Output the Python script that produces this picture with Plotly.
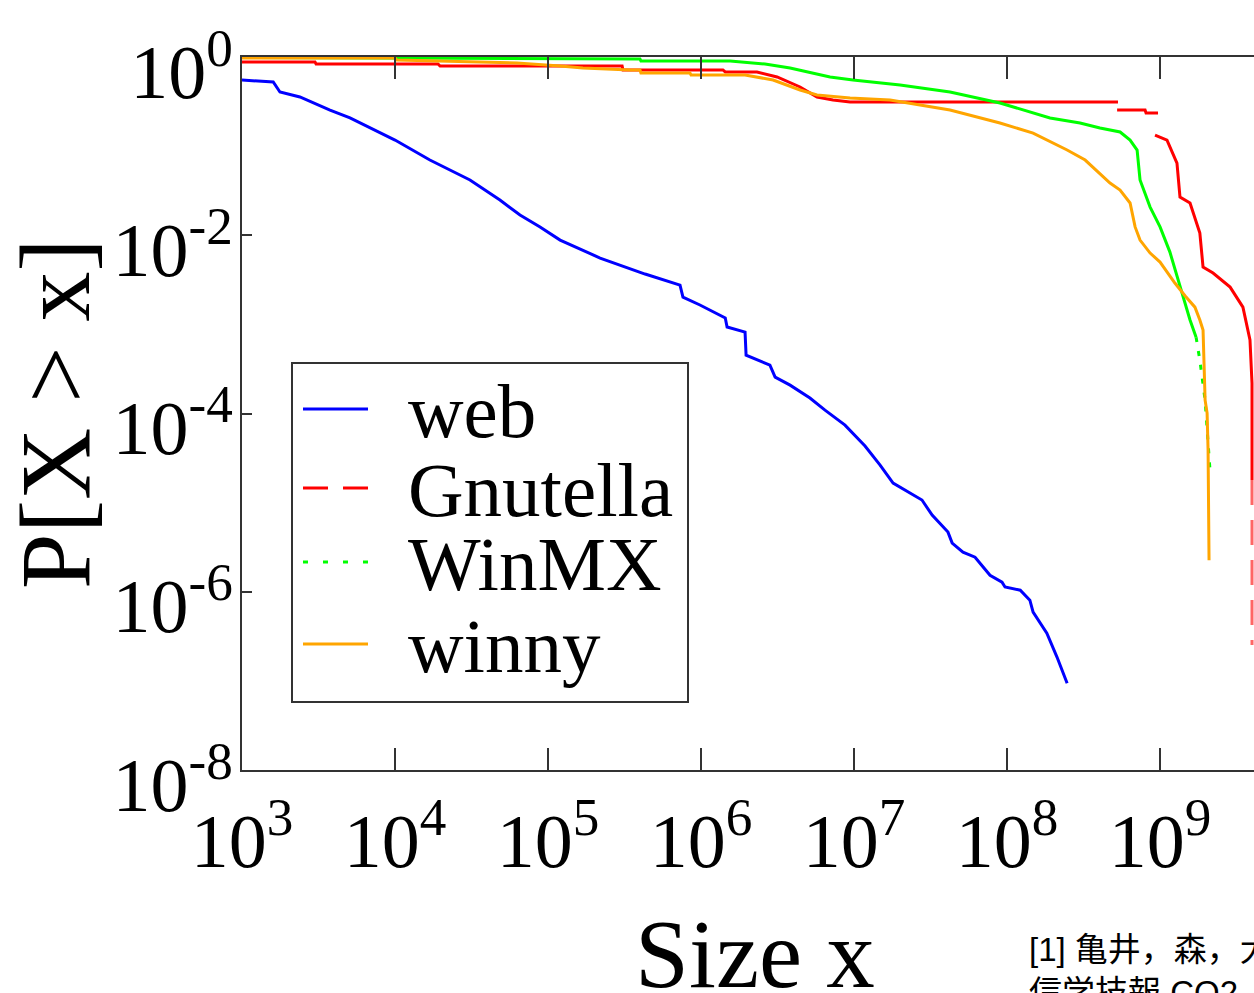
import plotly.graph_objects as go

# ---------------- data ----------------
web_size = [1.00e3, 1.60e3, 1.77e3, 2.39e3, 3.76e3, 5.08e3, 1.00e4, 1.69e4, 3.09e4, 4.85e4,
            6.56e4, 8.87e4, 1.20e5, 2.19e5, 4.31e5, 7.29e5, 7.62e5, 9.84e5, 1.44e6, 1.48e6,
            1.94e6, 1.97e6, 2.82e6, 3.05e6, 3.82e6, 5.15e6, 6.46e6, 8.73e6, 1.18e7, 1.48e7,
            1.80e7, 2.25e7, 2.78e7, 3.24e7, 4.11e7, 4.38e7, 5.15e7, 6.18e7, 7.74e7, 9.27e7,
            9.70e7, 1.22e8, 1.41e8, 1.48e8, 1.82e8, 2.12e8, 2.47e8]
web_p = [0.552, 0.524, 0.405, 0.356, 0.254, 0.207, 0.117, 0.0698, 0.0417, 0.0248,
         0.0169, 0.0124, 8.83e-3, 5.55e-3, 3.67e-3, 2.76e-3, 2.02e-3, 1.65e-3, 1.18e-3, 9.33e-4,
         8.20e-4, 4.52e-4, 3.49e-4, 2.56e-4, 2.08e-4, 1.49e-4, 1.09e-4, 7.41e-5, 4.31e-5, 2.64e-5,
         1.66e-5, 1.31e-5, 1.07e-5, 7.24e-6, 4.67e-6, 3.51e-6, 2.78e-6, 2.44e-6, 1.53e-6, 1.28e-6,
         1.13e-6, 1.04e-6, 8.05e-7, 5.90e-7, 3.43e-7, 1.85e-7, 9.42e-8]

gnutella_size = [1.00e3, 3.00e3, 3.05e3, 1.91e4, 1.97e4, 3.05e5, 3.09e5, 1.39e6, 1.44e6, 2.32e6,
                 3.14e6, 4.44e6, 5.73e6, 7.29e6, 9.42e6, 5.31e8, None, 5.24e8, 7.98e8, 8.10e8,
                 9.70e8, None, 9.27e8, 1.11e9, 1.29e9, 1.35e9, 1.57e9, 1.82e9, 1.91e9, 2.22e9,
                 2.87e9, 3.48e9, 3.87e9, 3.99e9, 3.99e9, 3.99e9]
gnutella_p = [0.879, 0.879, 0.834, 0.834, 0.792, 0.792, 0.715, 0.715, 0.679, 0.679,
              0.597, 0.461, 0.356, 0.329, 0.313, 0.313, None, 0.254, 0.254, 0.235,
              0.235, None, 0.133, 0.117, 0.0646, 0.0268, 0.0230, 0.0106, 4.40e-3, 3.77e-3,
              2.62e-3, 1.56e-3, 6.67e-4, 2.19e-4, 1.79e-5, 2.52e-7]

winmx_size = [1.00e3, 3.99e5, 4.05e5, 1.55e6, 2.62e6, 3.82e6, 6.97e6, 9.84e6, 2.00e7, 4.24e7,
              8.99e7, 1.91e8, 3.00e8, 4.05e8, 5.48e8, 6.37e8, 7.08e8, 7.40e8, 8.61e8, 1.00e9,
              1.16e9, 1.35e9, 1.57e9, 1.72e9, 1.82e9, 1.97e9, 2.06e9, 2.12e9]
winmx_p = [0.987, 0.950, 0.902, 0.902, 0.835, 0.753, 0.596, 0.552, 0.485, 0.405,
           0.305, 0.207, 0.182, 0.160, 0.144, 0.117, 0.0904, 0.0417, 0.0207, 0.0124,
           6.47e-3, 2.62e-3, 1.12e-3, 7.19e-4, 3.97e-4, 1.41e-4, 5.02e-5, 2.32e-5]

winny_size = [1.00e3, 1.00e4, 1.03e4, 6.27e4, 1.20e5, 1.69e5, 3.44e5, 3.99e5, 4.05e5, 8.47e5,
              8.61e5, 1.94e6, 2.96e6, 4.44e6, 5.73e6, 9.42e6, 1.72e7, 2.70e7, 4.24e7, 8.99e7,
              1.48e8, 2.47e8, 3.24e8, 4.71e8, 5.48e8, 6.37e8, 6.87e8, 7.40e8, 8.61e8, 1.00e9,
              1.25e9, 1.46e9, 1.69e9, 1.82e9, 1.91e9, 1.97e9, 2.03e9, 2.06e9, 2.09e9]
winny_p = [0.974, 0.974, 0.925, 0.856, 0.792, 0.753, 0.715, 0.715, 0.661, 0.661,
           0.628, 0.628, 0.552, 0.426, 0.375, 0.347, 0.329, 0.289, 0.254, 0.182,
           0.140, 0.0904, 0.0698, 0.0385, 0.0322, 0.0230, 0.0124, 8.83e-3, 6.31e-3, 5.00e-3,
           2.91e-3, 2.08e-3, 1.56e-3, 1.12e-3, 8.63e-4, 1.41e-4, 1.01e-4, 3.88e-5, 2.26e-6]

series_names = ["web", "Gnutella", "WinMX", "winny"]

x_tick_vals = [1e3, 1e4, 1e5, 1e6, 1e7, 1e8, 1e9]
x_tick_text = ["10<sup>3</sup>", "10<sup>4</sup>", "10<sup>5</sup>", "10<sup>6</sup>",
               "10<sup>7</sup>", "10<sup>8</sup>", "10<sup>9</sup>"]
y_tick_vals = [1e0, 1e-2, 1e-4, 1e-6, 1e-8]
y_tick_text = ["10<sup>0</sup>", "10<sup>-2</sup>", "10<sup>-4</sup>", "10<sup>-6</sup>", "10<sup>-8</sup>"]

x_title = "Size x"
y_title = "P[X > x]"
note_text = "[1] 亀井，森，大西，<br>信学技報 CQ2"

# ---------------- styling ----------------
BLUE, RED, GREEN, ORANGE = "#0000ff", "#ff0000", "#00ff00", "#ffa500"
AX = "#333333"
SERIF = "Liberation Serif, Times New Roman, serif"
LW = 3
winmx_dotted_from = 23   # the sparse tail is drawn dotted
gnutella_dashed_from = 34

W, H = 1254, 993
L, R, T, B = 242, 0, 57, 223
PW, PH = W - L - R, H - T - B


def px(x):
    return (x - L) / PW


def py(y):
    return (T + PH - y) / PH


fig = go.Figure()
fig.add_trace(go.Scatter(x=web_size, y=web_p, mode="lines", name="web",
                         line=dict(color=BLUE, width=LW), showlegend=False))
fig.add_trace(go.Scatter(x=gnutella_size[:gnutella_dashed_from + 1], y=gnutella_p[:gnutella_dashed_from + 1],
                         mode="lines", name="Gnutella", line=dict(color=RED, width=LW), showlegend=False))
fig.add_trace(go.Scatter(x=gnutella_size[gnutella_dashed_from:], y=gnutella_p[gnutella_dashed_from:],
                         mode="lines", name="Gnutella", line=dict(color=RED, width=LW, dash="25px,15px"),
                         opacity=0.6, showlegend=False))
fig.add_trace(go.Scatter(x=winmx_size[:winmx_dotted_from + 1], y=winmx_p[:winmx_dotted_from + 1],
                         mode="lines", name="WinMX", line=dict(color=GREEN, width=LW), showlegend=False))
fig.add_trace(go.Scatter(x=winmx_size[winmx_dotted_from:], y=winmx_p[winmx_dotted_from:],
                         mode="lines", name="WinMX", line=dict(color=GREEN, width=LW, dash="5px,9px"),
                         showlegend=False))
fig.add_trace(go.Scatter(x=winny_size, y=winny_p, mode="lines", name="winny",
                         line=dict(color=ORANGE, width=LW), showlegend=False))

# manual legend box (matches reference layout)
shapes = [dict(type="rect", xref="paper", yref="paper", x0=px(292), x1=px(688), y0=py(702), y1=py(363),
               line=dict(color=AX, width=2), fillcolor="white", layer="above")]
annotations = []
leg_y = [409, 488, 562, 644]
leg_style = [(BLUE, "solid"), (RED, "25px,15px"), (GREEN, "5px,15px"), (ORANGE, "solid")]
for name, yy, (col, dash) in zip(series_names, leg_y, leg_style):
    shapes.append(dict(type="line", xref="paper", yref="paper", x0=px(303), x1=px(368), y0=py(yy), y1=py(yy),
                       line=dict(color=col, width=LW, dash=dash), layer="above"))
    annotations.append(dict(text=name, xref="paper", yref="paper", x=px(406), y=py(yy + 2),
                            xanchor="left", yanchor="middle", showarrow=False,
                            font=dict(family=SERIF, size=77, color="black")))

# x-axis title, placed lower than plotly's margin-constrained axis title allows
annotations.append(dict(text=x_title, xref="paper", yref="paper", x=px(755), y=py(1010),
                        xanchor="center", yanchor="bottom", showarrow=False,
                        font=dict(family=SERIF, size=97, color="black")))

annotations.append(dict(text=note_text, xref="paper", yref="paper", x=px(1027), y=py(929),
                        xanchor="left", yanchor="top", align="left", showarrow=False,
                        font=dict(family="Liberation Sans, Noto Sans CJK JP, sans-serif", size=33, color="black")))

fig.update_layout(
    width=W, height=H,
    margin=dict(l=L, r=R, t=T, b=B, autoexpand=False),
    paper_bgcolor="white", plot_bgcolor="white",
    showlegend=False,
    shapes=shapes, annotations=annotations,
    xaxis=dict(type="log", range=[3, 9.614], tickvals=x_tick_vals, ticktext=x_tick_text,
               ticks="inside", ticklen=22, tickwidth=2, tickcolor=AX,
               showline=True, linecolor=AX, linewidth=2, mirror="ticks",
               showgrid=False, zeroline=False, ticklabelstandoff=4,
               tickfont=dict(family=SERIF, size=76, color="black")),
    yaxis=dict(type="log", range=[-8, 0], tickvals=y_tick_vals, ticktext=y_tick_text,
               ticks="inside", ticklen=10, tickwidth=2, tickcolor=AX,
               showline=True, linecolor=AX, linewidth=2, mirror=False,
               showgrid=False, zeroline=False, ticklabelstandoff=-8, ticklabelshift=14,
               tickfont=dict(family=SERIF, size=76, color="black"),
               title=dict(text=y_title, font=dict(family=SERIF, size=100, color="black"), standoff=14)),
    yaxis2=dict(type="log", range=[-8, 0], overlaying="y", side="right", anchor="x",
                tickvals=y_tick_vals, ticks="inside", ticklen=10, tickwidth=2, tickcolor=AX,
                showticklabels=False, showline=False, showgrid=False, zeroline=False),
)

fig.write_html("out.html")
